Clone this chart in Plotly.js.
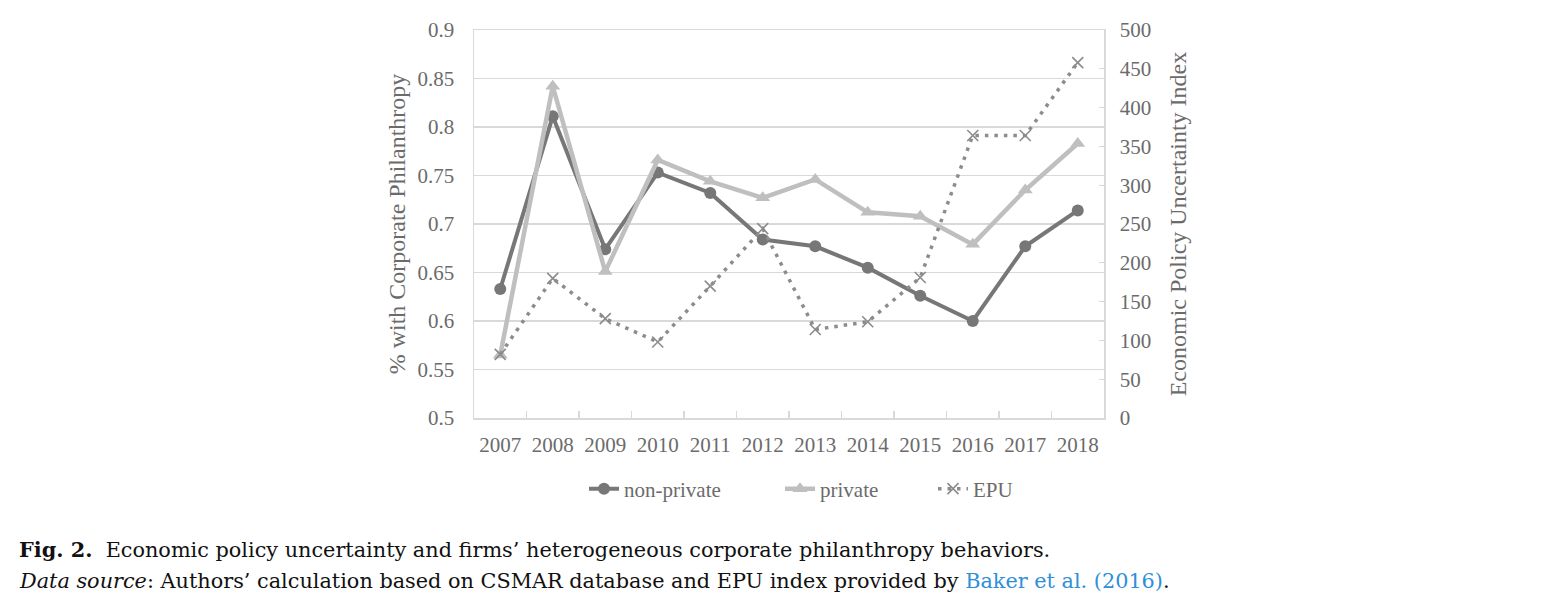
<!DOCTYPE html>
<html><head><meta charset="utf-8">
<script src="https://cdn.plot.ly/plotly-3.0.1.min.js"></script>
<style>html,body{margin:0;padding:0;background:#fff}#chart{width:1551px;height:605px}</style>
</head><body><div id="chart"></div>
<script>
const years = ['2007','2008','2009','2010','2011','2012','2013','2014','2015','2016','2017','2018'];
const nonPrivate = [0.633,0.811,0.674,0.753,0.732,0.684,0.677,0.655,0.626,0.600,0.677,0.714];
const privateFirms = [0.565,0.842,0.651,0.766,0.744,0.727,0.746,0.712,0.708,0.679,0.735,0.783];
const epu = [82,180,128,98,170,244,114,124,181,364,364,458];

const serif = 'Liberation Serif, Times New Roman, serif';
const capFont = 'DejaVu Serif, serif';
const txt = '#6b6b6b';
const grid = '#d9d9d9';

const traces = [
  {x: years, y: nonPrivate, name: 'non-private', type: 'scatter', mode: 'lines+markers', legend: 'legend',
   line: {color: '#777777', width: 4}, marker: {symbol: 'circle', size: 12, color: '#777777'}},
  {x: years, y: privateFirms, name: 'private', type: 'scatter', mode: 'lines+markers', legend: 'legend2',
   line: {color: '#bfbfbf', width: 4.5}, marker: {symbol: 'triangle-up', size: 13, color: '#bfbfbf'}},
  {x: years, y: epu, name: 'EPU', type: 'scatter', mode: 'lines+markers', yaxis: 'y2', legend: 'legend3',
   line: {color: '#8c8c8c', width: 3.5, dash: '3.5px,6px'},
   marker: {symbol: 'x-thin-open', size: 11, color: '#8c8c8c', line: {color: '#8c8c8c', width: 1.6}}}
];

const legFont = {family: serif, size: 21, color: txt};
const legY = -71/388;
const layout = {
  width: 1551, height: 605,
  margin: {l: 474, r: 447, t: 30, b: 187},
  paper_bgcolor: '#fff', plot_bgcolor: '#fff',
  font: {family: serif, color: txt, size: 21},
  showlegend: true,
  legend: {orientation: 'h', x: (584-474)/630, xanchor: 'left', y: legY, yanchor: 'middle', font: legFont},
  legend2: {orientation: 'h', x: (780-474)/630, xanchor: 'left', y: legY, yanchor: 'middle', font: legFont},
  legend3: {orientation: 'h', x: (933-474)/630, xanchor: 'left', y: legY, yanchor: 'middle', font: legFont},
  xaxis: {type: 'category', range: [-0.5, 11.5], showline: true, linecolor: grid, linewidth: 1.5, mirror: true,
          ticks: 'inside', tickson: 'boundaries', ticklen: 7, tickcolor: grid, tickwidth: 1.5,
          showgrid: false, tickfont: {family: serif, size: 21, color: txt}, ticklabelstandoff: 7, fixedrange: true},
  yaxis: {range: [0.5, 0.9], dtick: 0.05, tick0: 0.5, showgrid: true, gridcolor: grid, gridwidth: 1.5,
          showline: true, linecolor: grid, linewidth: 1.5, zeroline: false, ticks: '',
          tickfont: {family: serif, size: 21, color: txt}, ticklabelstandoff: 14,
          title: {text: '% with Corporate Philanthropy', font: {family: serif, size: 24, color: txt}, standoff: 5}},
  yaxis2: {range: [0, 500], dtick: 50, overlaying: 'y', side: 'right', showgrid: false, zeroline: false,
           showline: true, linecolor: grid, linewidth: 1.5, ticks: 'inside', ticklen: 5, tickcolor: grid,
           tickfont: {family: serif, size: 21, color: txt}, ticklabelstandoff: 10,
           title: {text: 'Economic Policy Uncertainty Index', font: {family: serif, size: 24, color: txt}, standoff: 19}},
  annotations: [
    {xref: 'paper', yref: 'paper', x: -457/630, y: -131/388, xanchor: 'left', yanchor: 'middle', showarrow: false,
     align: 'left', font: {family: capFont, size: 20.8, color: '#111'},
     text: '<b>Fig. 2.</b>  Economic policy uncertainty and firms’ heterogeneous corporate philanthropy behaviors.'},
    {xref: 'paper', yref: 'paper', x: -457/630, y: -163/388, xanchor: 'left', yanchor: 'middle', showarrow: false,
     align: 'left', font: {family: capFont, size: 20.8, color: '#111'},
     text: '<i>Data source</i>: Authors’ calculation based on CSMAR database and EPU index provided by <span style="color:#2f8fd8">Baker et al. (2016)</span>.'}
  ]
};
Plotly.newPlot('chart', traces, layout, {displayModeBar: false, staticPlot: true});
</script></body></html>
